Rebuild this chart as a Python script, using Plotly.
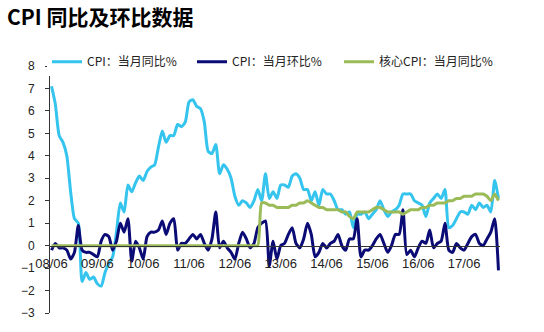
import plotly.graph_objects as go
import pandas as pd

# Monthly observations, 2008-06 .. 2018-03
months = pd.date_range("2008-06-01", "2018-03-01", freq="MS")

# CPI year-on-year, %
cpi_yoy = [
    7.1, 6.3, 4.9, 4.6, 4.0, 2.4, 1.2,
    1.0, -1.6, -1.2, -1.5, -1.4, -1.7, -1.8, -1.2, -0.8, -0.5, 0.6, 1.9,
    1.5, 2.7, 2.4, 2.8, 3.1, 2.9, 3.3, 3.5, 3.6, 4.4, 5.1, 4.6,
    4.9, 4.9, 5.4, 5.3, 5.5, 6.4, 6.5, 6.2, 6.1, 5.5, 4.2, 4.1,
    4.5, 3.2, 3.6, 3.4, 3.0, 2.2, 1.8, 2.0, 1.9, 1.7, 2.0, 2.5,
    2.0, 3.2, 2.1, 2.4, 2.1, 2.7, 2.7, 2.6, 3.1, 3.2, 3.0, 2.5,
    2.5, 2.0, 2.4, 1.8, 2.5, 2.3, 2.3, 2.0, 1.6, 1.6, 1.4, 1.5,
    0.8, 1.4, 1.4, 1.5, 1.2, 1.4, 1.6, 2.0, 1.6, 1.3, 1.5, 1.6,
    1.8, 2.3, 2.3, 2.3, 2.0, 1.9, 1.8, 1.3, 1.9, 2.1, 2.3, 2.1,
    2.5, 0.8, 0.9, 1.2, 1.5, 1.5, 1.4, 1.8, 1.6, 1.9, 1.7, 1.8,
    1.5, 2.9, 2.1,
]

# CPI month-on-month, %
cpi_mom = [
    -0.2, 0.1, -0.1, -0.1, -0.2, -0.6, -0.3,
    0.9, -0.2, -0.3, -0.3, -0.4, -0.5, 0.2, 0.5, 0.4, -0.2, 0.2, 1.0,
    0.6, 1.2, -0.7, 0.2, -0.1, -0.6, 0.4, 0.6, 0.6, 0.7, 1.1, 0.5,
    1.0, 1.2, -0.2, 0.1, 0.1, 0.3, 0.5, 0.3, 0.5, 0.1, -0.2, 0.3,
    1.5, -0.1, 0.2, -0.1, -0.3, -0.6, 0.1, 0.6, 0.3, -0.1, 0.1, 0.8,
    1.0, 1.1, -0.9, 0.2, -0.6, 0.0, 0.1, 0.5, 0.8, 0.1, -0.1, 0.3,
    1.0, 0.5, -0.5, -0.3, 0.1, -0.1, 0.1, 0.2, 0.5, 0.0, -0.2, 0.3,
    0.3, 1.2, -0.5, -0.2, -0.2, 0.0, 0.3, 0.5, 0.1, -0.3, 0.0, 0.5,
    0.5, 1.6, -0.4, -0.2, -0.5, -0.1, 0.2, 0.1, 0.7, -0.1, 0.1, 0.2,
    1.0, -0.2, -0.3, 0.1, -0.1, -0.2, 0.1, 0.4, 0.5, 0.1, 0.0, 0.3,
    0.6, 1.2, -1.1,
]

# Core CPI year-on-year, % (series begins 2013-01; earlier months shown as 0)
core_yoy = [0.0] * 55 + [
    1.9, 1.9, 1.8, 1.8, 1.7, 1.7, 1.7, 1.7, 1.8, 1.8, 1.9, 1.9,
    2.0, 1.9, 1.8, 1.7, 1.7, 1.6, 1.6, 1.6, 1.6, 1.5, 1.5, 1.3,
    1.2, 1.5, 1.5, 1.5, 1.5, 1.6, 1.7, 1.7, 1.6, 1.5, 1.5, 1.5,
    1.5, 1.4, 1.5, 1.6, 1.6, 1.6, 1.7, 1.7, 1.8, 1.8, 1.9, 1.9,
    1.9, 2.0, 2.0, 2.1, 2.1, 2.2, 2.2, 2.2, 2.3, 2.3, 2.3, 2.2,
    2.0, 2.3, 2.0,
]

tick_labels = ["08/06", "09/06", "10/06", "11/06", "12/06",
               "13/06", "14/06", "15/06", "16/06", "17/06"]

series_names = ["CPI：当月同比%", "CPI：当月环比%", "核心CPI：当月同比%"]
series_colors = ["#35C4EE", "#0B0B76", "#9BBB59"]
legend_ids = ["legend", "legend2", "legend3"]

x = list(range(len(months)))
tick_pos = [i for i, m in enumerate(months) if m.month == 6]

fig = go.Figure()
for name, ys, color, lg in zip(series_names, [cpi_yoy, cpi_mom, core_yoy],
                               series_colors, legend_ids):
    fig.add_trace(go.Scatter(
        x=x, y=ys, name=name, mode="lines", legend=lg,
        line=dict(color=color, width=3, shape="spline", smoothing=0.6),
    ))

cjk = "Noto Sans CJK SC"
y_min, y_max = -3, 8
plot_w = 544 - 50 - 44


def legend_box(left_px):
    # one legend entry, placed by the pixel position of its key line
    return dict(
        orientation="h", x=(left_px - 5 - 50) / plot_w, xanchor="left",
        y=1.017, yanchor="middle", bgcolor="white",
        font=dict(family=cjk, size=12, color="#222"),
    )


fig.update_layout(
    width=544, height=332,
    margin=dict(l=50, r=44, t=66, b=15),
    paper_bgcolor="white", plot_bgcolor="white",
    title=dict(
        text="CPI 同比及环比数据", xref="container", yref="container",
        x=7 / 544, xanchor="left", y=1 - 18 / 332, yanchor="middle",
        font=dict(family=cjk, size=21, color="black", weight="bold"),
    ),
    legend=legend_box(52),
    legend2=legend_box(197),
    legend3=legend_box(344),
    showlegend=True,
)

fig.update_xaxes(
    range=[-0.4, len(x) - 0.6],
    tickvals=tick_pos, ticktext=tick_labels,
    anchor="free", position=(0 - y_min) / (y_max - y_min),
    showline=True, linecolor="#333", linewidth=1,
    showgrid=False, zeroline=False, ticks="",
    tickfont=dict(family="Liberation Sans", size=13, color="#222"),
    ticklabelstandoff=6,
)
fig.update_yaxes(
    range=[y_min, y_max], dtick=1, tick0=0,
    showline=True, linecolor="#333", linewidth=1,
    ticks="outside", ticklen=4, tickcolor="#333",
    showgrid=False, zeroline=False,
    tickfont=dict(family="Liberation Sans", size=12, color="#222"),
    ticklabelstandoff=8,
)

fig.write_html("out.html")
